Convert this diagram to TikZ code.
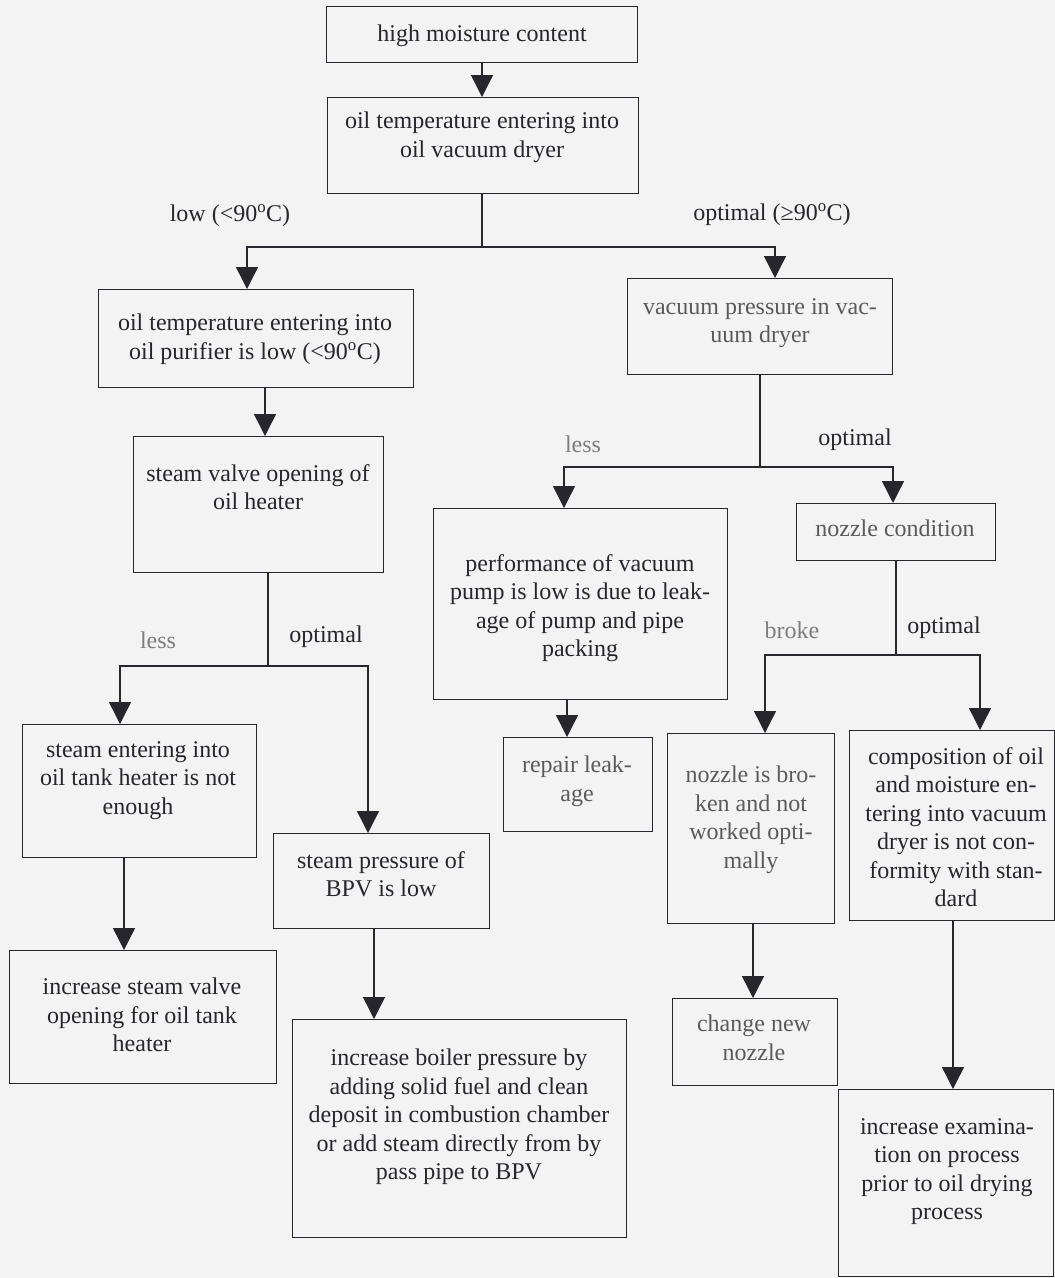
\documentclass[tikz,border=0pt]{standalone}
\usepackage{fontspec}
\setmainfont{Liberation Serif}
\usetikzlibrary{arrows.meta}
\definecolor{bg}{RGB}{243,243,243}
\definecolor{ink}{RGB}{38,38,44}
\definecolor{soft}{RGB}{90,90,92}
\definecolor{faint}{RGB}{125,125,125}
\tikzset{
  boxnode/.style={draw=ink, line width=1.4pt, inner sep=0pt, anchor=north west},
  txt/.style={align=center, inner sep=0pt, anchor=north, text=ink, font=\fontsize{24}{28.5}\selectfont},
  lbl/.style={inner sep=0pt, text=ink, font=\fontsize{24}{28.5}\selectfont},
  conn/.style={draw=ink, line width=1.4pt},
  arr/.style={conn, -{Triangle[width=22pt,length=22pt]}},
}
\newcommand{\dg}{\textsuperscript{o}}
\begin{document}
\begin{tikzpicture}[x=1pt,y=-1pt]
\clip (0,0) rectangle (1055,1278);
\fill[bg] (0,0) rectangle (1055,1278);

% boxes
\node[boxnode, minimum width=311pt, minimum height=56pt]  (A) at (326,6) {};
\node[boxnode, minimum width=311pt, minimum height=96pt]  (B) at (327,97) {};
\node[boxnode, minimum width=315pt, minimum height=98pt]  (C) at (98,289) {};
\node[boxnode, minimum width=265pt, minimum height=96pt]  (D) at (627,278) {};
\node[boxnode, minimum width=250pt, minimum height=136pt] (E) at (133,436) {};
\node[boxnode, minimum width=234pt, minimum height=133pt] (F) at (22,724) {};
\node[boxnode, minimum width=216pt, minimum height=95pt]  (G) at (273,833) {};
\node[boxnode, minimum width=267pt, minimum height=133pt] (H) at (9,950) {};
\node[boxnode, minimum width=334pt, minimum height=218pt] (I) at (292,1019) {};
\node[boxnode, minimum width=294pt, minimum height=191pt] (J) at (433,508) {};
\node[boxnode, minimum width=149pt, minimum height=94pt]  (K) at (503,737) {};
\node[boxnode, minimum width=199pt, minimum height=57pt]  (L) at (796,503) {};
\node[boxnode, minimum width=167pt, minimum height=190pt] (M) at (667,733) {};
\node[boxnode, minimum width=205pt, minimum height=190pt] (N) at (849,730) {};
\node[boxnode, minimum width=165pt, minimum height=87pt]  (O) at (672,998) {};
\node[boxnode, minimum width=215pt, minimum height=187pt] (P) at (838,1089) {};

% texts
\node[txt] (At) at (482,25) {high moisture content};
\node[txt] (Bt) at (482,112) {oil temperature entering into\\oil vacuum dryer};
\node[txt] (Ct) at (255,314) {oil temperature entering into\\oil purifier is low (<90\dg C)};
\node[txt, text=soft] (Dt) at (760,298) {vacuum pressure in vac-\\uum dryer};
\node[txt] (Et) at (258,464) {steam valve opening of\\oil heater};
\node[txt] (Ft) at (138,741) {steam entering into\\oil tank heater is not\\enough};
\node[txt] (Gt) at (381,851) {steam pressure of\\BPV is low};
\node[txt] (Ht) at (142,978) {increase steam valve\\opening for oil tank\\heater};
\node[txt] (It) at (459,1049) {increase boiler pressure by\\adding solid fuel and clean\\deposit in combustion chamber\\or add steam directly from by\\pass pipe to BPV};
\node[txt] (Jt) at (580,554) {performance of vacuum\\pump is low is due to leak-\\age of pump and pipe\\packing};
\node[txt, text=soft] (Kt) at (577,756) {repair leak-\\age};
\node[txt, text=soft] (Lt) at (895,520) {nozzle condition};
\node[txt, text=soft] (Mt) at (751,766) {nozzle is bro-\\ken and not\\worked opti-\\mally};
\node[txt] (Nt) at (956,747) {composition of oil\\and moisture en-\\tering into vacuum\\dryer is not con-\\formity with stan-\\dard};
\node[txt, text=soft] (Ot) at (754,1015) {change new\\nozzle};
\node[txt] (Pt) at (947,1118) {increase examina-\\tion on process\\prior to oil drying\\process};

% branch labels
\node[lbl] (l1) at (230,216) {low (<90\dg C)};
\node[lbl] (l2) at (772,215) {optimal (≥90\dg C)};
\node[lbl, text=faint] (l3) at (158,640) {less};
\node[lbl] (l4) at (326,637) {optimal};
\node[lbl, text=faint] (l5) at (583,444) {less};
\node[lbl] (l6) at (855,440) {optimal};
\node[lbl, text=faint] (l7) at (792,630) {broke};
\node[lbl] (l8) at (944,628) {optimal};

% junction and drop coordinates
\coordinate (jB) at (482,247);
\coordinate (xC) at (247,0);
\coordinate (xD) at (775,0);
\coordinate (xE) at (265,0);
\coordinate (jE) at (268,666);
\coordinate (xF) at (120,0);
\coordinate (xG) at (368,0);
\coordinate (xH) at (124,0);
\coordinate (xI) at (374,0);
\coordinate (jD) at (760,467);
\coordinate (xJ) at (564,0);
\coordinate (xL) at (893,0);
\coordinate (xK) at (567,0);
\coordinate (jL) at (896,655);
\coordinate (xM) at (765,0);
\coordinate (xN) at (980,0);
\coordinate (xO) at (753,0);
\coordinate (xP) at (953,0);

% connectors
\draw[arr] (jB |- A.south) -- (jB |- B.north);
\draw[conn] (jB |- B.south) -- (jB);
\draw[arr] (jB) -| (xC |- C.north);
\draw[arr] (jB) -| (xD |- D.north);
\draw[arr] (xE |- C.south) -- (xE |- E.north);
\draw[conn] (jE |- E.south) -- (jE);
\draw[arr] (jE) -| (xF |- F.north);
\draw[arr] (jE) -| (xG |- G.north);
\draw[arr] (xH |- F.south) -- (xH |- H.north);
\draw[arr] (xI |- G.south) -- (xI |- I.north);
\draw[conn] (jD |- D.south) -- (jD);
\draw[arr] (jD) -| (xJ |- J.north);
\draw[arr] (jD) -| (xL |- L.north);
\draw[arr] (xK |- J.south) -- (xK |- K.north);
\draw[conn] (jL |- L.south) -- (jL);
\draw[arr] (jL) -| (xM |- M.north);
\draw[arr] (jL) -| (xN |- N.north);
\draw[arr] (xO |- M.south) -- (xO |- O.north);
\draw[arr] (xP |- N.south) -- (xP |- P.north);
\end{tikzpicture}
\end{document}
